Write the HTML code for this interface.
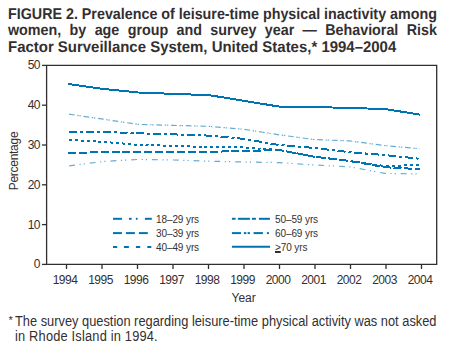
<!DOCTYPE html>
<html><head><meta charset="utf-8">
<style>
html,body{margin:0;padding:0;background:#fff;}
body{width:451px;height:354px;position:relative;overflow:hidden;font-family:"Liberation Sans",sans-serif;color:#332f30;}
.t{position:absolute;left:8.4px;font-weight:bold;font-size:15.5px;line-height:16.6px;text-rendering:geometricPrecision;white-space:nowrap;transform-origin:0 0;}
.tj{display:flex;justify-content:space-between;}
svg{position:absolute;left:0;top:0;}
.yl{position:absolute;right:411px;font-size:12px;line-height:14px;letter-spacing:-0.5px;}
.xl{position:absolute;top:273px;width:40px;text-align:center;font-size:12px;line-height:14px;letter-spacing:-0.5px;}
.lt{position:absolute;font-size:10px;line-height:12px;letter-spacing:-0.1px;}
.foot{position:absolute;left:15.2px;font-size:13.8px;line-height:15.3px;white-space:nowrap;transform:scaleX(0.93);transform-origin:0 0;}
</style></head><body>
<div class="t tj" style="top:6.6px;width:465px;transform:scaleX(0.9225)"><span>FIGURE</span><span>2.</span><span>Prevalence</span><span>of</span><span>leisure-time</span><span>physical</span><span>inactivity</span><span>among</span></div>
<div class="t tj" style="top:23.2px;width:465px;transform:scaleX(0.9225)"><span>women,</span><span>by</span><span>age</span><span>group</span><span>and</span><span>survey</span><span>year</span><span>—</span><span>Behavioral</span><span>Risk</span></div>
<div class="t" style="top:39.8px;transform:scaleX(0.965)">Factor Surveillance System, United States,* 1994–2004</div>
<svg width="451" height="354" viewBox="0 0 451 354">
<g stroke="#332f30" stroke-width="1.3" fill="none">
<polyline points="46.6,65.3 436.7,65.3 436.7,264.4 46.6,264.4 46.6,65.3"/>
<line x1="42" y1="264.4" x2="47" y2="264.4"/><line x1="42" y1="224.6" x2="47" y2="224.6"/><line x1="42" y1="184.8" x2="47" y2="184.8"/><line x1="42" y1="145.0" x2="47" y2="145.0"/><line x1="42" y1="105.2" x2="47" y2="105.2"/><line x1="42" y1="65.4" x2="47" y2="65.4"/><line x1="66.5" y1="264.4" x2="66.5" y2="269"/><line x1="102.0" y1="264.4" x2="102.0" y2="269"/><line x1="137.5" y1="264.4" x2="137.5" y2="269"/><line x1="173.0" y1="264.4" x2="173.0" y2="269"/><line x1="208.5" y1="264.4" x2="208.5" y2="269"/><line x1="244.0" y1="264.4" x2="244.0" y2="269"/><line x1="279.5" y1="264.4" x2="279.5" y2="269"/><line x1="315.0" y1="264.4" x2="315.0" y2="269"/><line x1="350.5" y1="264.4" x2="350.5" y2="269"/><line x1="386.0" y1="264.4" x2="386.0" y2="269"/><line x1="421.5" y1="264.4" x2="421.5" y2="269"/>
</g>
<polyline fill="none" stroke="#0074b3" stroke-width="2" shape-rendering="crispEdges" points="68.0,84.0 103.2,88.9 138.4,92.5 173.6,93.9 208.8,95.1 244.0,100.8 279.2,106.6 314.4,107.0 349.6,108.0 384.8,109.0 420.0,114.6"/>
<polyline fill="none" stroke="#0074b3" stroke-width="1.2" stroke-opacity="0.6" stroke-dasharray="5.7 2.6 1.4 0.8 1.4 2.8" stroke-dashoffset="-1" points="68.0,114.0 103.2,119.2 138.4,124.4 173.6,125.4 208.8,126.3 244.0,129.3 279.2,134.8 314.4,139.6 349.6,140.9 384.8,145.6 420.0,148.8"/>
<polyline fill="none" stroke="#0074b3" stroke-width="2" stroke-dasharray="8 3 3 2.85" stroke-dashoffset="-1" shape-rendering="crispEdges" points="68.0,131.7 103.2,132.0 138.4,133.3 173.6,134.4 208.8,135.6 244.0,138.9 279.2,145.0 314.4,148.0 349.6,152.2 384.8,155.1 420.0,158.8"/>
<polyline fill="none" stroke="#0074b3" stroke-width="2" stroke-dasharray="3 2.9" stroke-dashoffset="-1" shape-rendering="crispEdges" points="68.0,139.8 103.2,141.8 138.4,144.9 173.6,145.9 208.8,147.0 244.0,147.5 279.2,150.0 314.4,156.5 349.6,161.0 384.8,166.0 420.0,165.0"/>
<polyline fill="none" stroke="#0074b3" stroke-width="2" stroke-dasharray="8 2.9" shape-rendering="crispEdges" points="68.0,152.8 103.2,152.3 138.4,151.9 173.6,151.9 208.8,151.8 244.0,151.0 279.2,150.0 314.4,156.7 349.6,161.0 384.8,167.2 420.0,169.2"/>
<polyline fill="none" stroke="#0074b3" stroke-width="1.2" stroke-opacity="0.6" stroke-dasharray="5.8 4.6 1.2 3 1.2 5" stroke-dashoffset="-1.2" points="68.0,166.0 103.2,161.5 138.4,159.4 173.6,160.0 208.8,161.2 244.0,162.0 279.2,162.6 314.4,165.0 349.6,166.8 384.8,173.4 420.0,174.0"/>
<g stroke="#0074b3" stroke-width="2"><line x1="113" y1="218.8" x2="121.9" y2="218.8"/><line x1="128.9" y1="218.8" x2="131.6" y2="218.8"/><line x1="135.9" y1="218.8" x2="137.6" y2="218.8"/><line x1="144.9" y1="218.8" x2="151.8" y2="218.8"/><line x1="113" y1="233.1" x2="121.9" y2="233.1"/><line x1="125.9" y1="233.1" x2="134.9" y2="233.1"/><line x1="138.9" y1="233.1" x2="147.8" y2="233.1"/><line x1="113" y1="247.0" x2="117.2" y2="247.0"/><line x1="123.9" y1="247.0" x2="128.9" y2="247.0"/><line x1="135.9" y1="247.0" x2="140.2" y2="247.0"/><line x1="147.3" y1="247.0" x2="151.3" y2="247.0"/><line x1="231.9" y1="218.8" x2="235.6" y2="218.8"/><line x1="237.9" y1="218.8" x2="249.9" y2="218.8"/><line x1="252" y1="218.8" x2="255.9" y2="218.8"/><line x1="258.9" y1="218.8" x2="269.9" y2="218.8"/><line x1="231.9" y1="233.1" x2="241" y2="233.1"/><line x1="243.9" y1="233.1" x2="246.3" y2="233.1"/><line x1="247.6" y1="233.1" x2="249.9" y2="233.1"/><line x1="253.6" y1="233.1" x2="262.9" y2="233.1"/><line x1="266.9" y1="233.1" x2="268.9" y2="233.1"/><line x1="231.9" y1="246.8" x2="270" y2="246.8"/></g>
</svg>
<div class="yl" style="top:257.4px">0</div><div class="yl" style="top:217.6px">10</div><div class="yl" style="top:177.8px">20</div><div class="yl" style="top:138.0px">30</div><div class="yl" style="top:98.2px">40</div><div class="yl" style="top:58.4px">50</div>
<div class="xl" style="left:45.0px">1994</div><div class="xl" style="left:80.5px">1995</div><div class="xl" style="left:116.0px">1996</div><div class="xl" style="left:151.5px">1997</div><div class="xl" style="left:187.0px">1998</div><div class="xl" style="left:222.5px">1999</div><div class="xl" style="left:258.0px">2000</div><div class="xl" style="left:293.5px">2001</div><div class="xl" style="left:329.0px">2002</div><div class="xl" style="left:364.5px">2003</div><div class="xl" style="left:400.0px">2004</div>
<div id="perc" style="position:absolute;left:-16.5px;top:153.7px;width:60px;text-align:center;font-size:12px;line-height:14px;letter-spacing:-0.28px;transform:rotate(-90deg);">Percentage</div>
<div id="year" style="position:absolute;left:231.5px;top:290.5px;font-size:12px;line-height:14px;">Year</div>
<div class="lt" style="left:156px;top:214.0px">18–29 yrs</div><div class="lt" style="left:156px;top:228.3px">30–39 yrs</div><div class="lt" style="left:156px;top:242.2px">40–49 yrs</div><div class="lt" style="left:275px;top:214.0px">50–59 yrs</div><div class="lt" style="left:275px;top:228.3px">60–69 yrs</div><div class="lt" style="left:275px;top:242.2px"><u style="text-decoration-thickness:1.5px;text-underline-offset:-0.3px">&gt;</u>70 yrs</div>
<div style="position:absolute;left:8.6px;top:314px;font-size:11px;line-height:12px;">*</div>
<div class="foot" style="top:314.1px">The survey question regarding leisure-time physical activity was not asked</div>
<div class="foot" style="top:329.0px;letter-spacing:0.2px">in Rhode Island in 1994.</div>
</body></html>
